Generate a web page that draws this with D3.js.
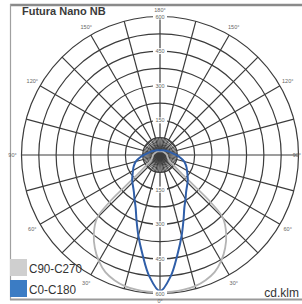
<!DOCTYPE html>
<html><head><meta charset="utf-8">
<script src="https://cdn.jsdelivr.net/npm/d3@7/dist/d3.min.js"></script>
<style>body{margin:0;background:#fff}svg{display:block}</style>
</head><body><svg id="c" width="302" height="304"></svg>
<script>
const title = "Futura Nano NB";
const unitLabel = "cd.klm";
const ringValues = [75,150,225,300,375,450,525,600];
const ringLabels = [150,300,450,600];
const angleLabels = [0,30,60,90,120,150,180];
const seriesNames = ["C90-C270","C0-C180"];
// angle (deg from nadir) and intensity (cd/klm), symmetric halves
const grayAngles = [0,5,10,15,20,25,30,35,40,45,47,48,50,55,60,70,80,90,120,150,180];
const grayValues = [595,594,592,588,577,560,530,492,446,386,300,200,110,60,45,36,32,30,22,18,16];
const blueAngles = [0,5,10,15,20,25,30,35,40,45,50,55,60,65,70,75,80,85,90,100,110,120,135,150,165,180];
const blueValues = [590,528,437,362,298,250,221,197,181,169,157,145,135,127,118,108,95,82,70,52,42,35,28,24,21,20];

const svg = d3.select("#c");
const cx = 160, cy = 155;
const r = d3.scaleLinear().domain([0,600]).range([0,138.5]);
const font = "Liberation Sans, Arial, sans-serif";

// frame
svg.append("line").attr("x1",10).attr("x2",302).attr("y1",5).attr("y2",5).attr("stroke","#8a8a8a").attr("stroke-width",2.5);
svg.append("line").attr("x1",10.5).attr("x2",10.5).attr("y1",4).attr("y2",300).attr("stroke","#a0a0a0").attr("stroke-width",1.2);
svg.append("line").attr("x1",10).attr("x2",302).attr("y1",299.5).attr("y2",299.5).attr("stroke","#9a9a9a").attr("stroke-width",2);

const g = svg.append("g").attr("transform",`translate(${cx},${cy})`);
const grid = g.append("g").attr("stroke","#3c3c3c").attr("fill","none");
grid.selectAll("circle").data(ringValues).join("circle").attr("r",d=>r(d)).attr("stroke-width",1.2);
const rad = d=>d*Math.PI/180;
// 15 deg spokes
grid.selectAll("line.s").data(d3.range(0,360,15)).join("line").attr("class","s")
  .attr("x1",0).attr("y1",0)
  .attr("x2",d=>r(600)*Math.sin(rad(d))).attr("y2",d=>r(600)*Math.cos(rad(d))).attr("stroke-width",1.2);
// dense inner spokes
grid.selectAll("line.d").data(d3.range(0,360,5).filter(d=>d%15)).join("line").attr("class","d")
  .attr("x1",0).attr("y1",0)
  .attr("x2",d=>r(75)*Math.sin(rad(d))).attr("y2",d=>r(75)*Math.cos(rad(d))).attr("stroke-width",0.9);

// curves
function pts(angles, values){
  const right = angles.map((a,i)=>[rad(180-a), r(values[i])]);
  const left = angles.slice(1,-1).reverse().map(a=>{
    const idx = angles.indexOf(a);
    return [rad(180+a), r(values[idx])];
  });
  return right.concat(left);
}
const line = d3.lineRadial().curve(d3.curveCatmullRomClosed);
g.append("path").attr("d",line(pts(grayAngles,grayValues))).attr("fill","none").attr("stroke","#b4b4b4").attr("stroke-width",1.8);
g.append("path").attr("d",line(pts(blueAngles,blueValues))).attr("fill","none").attr("stroke","#2f5ea8").attr("stroke-width",2);

// radial labels on vertical axis
const lab = g.append("g").attr("font-family",font).attr("font-size",5.5).attr("fill","#666").attr("text-anchor","middle");
[-1,1].forEach(s=>{
  ringLabels.forEach(v=>{
    lab.append("rect").attr("x",-7).attr("y",s*r(v)-3).attr("width",14).attr("height",6).attr("fill","#fff");
    lab.append("text").attr("x",0).attr("y",s*r(v)+2).text(v);
  });
});
// angle labels
const al = g.append("g").attr("font-family",font).attr("font-size",5.5).attr("fill","#666").attr("text-anchor","middle");
angleLabels.forEach(a=>{
  [-1,1].forEach(s=>{
    if((a===0||a===180)&&s<0) return;
    const rr = r(600)+ (a===0||a===180?7:9);
    let x = s*rr*Math.sin(rad(a));
    const t = al.append("text").attr("y",rr*Math.cos(rad(a))+2).text(a+"°");
    if(a===90 && s>0){ t.attr("x",141).attr("text-anchor","end"); }
    else t.attr("x",x);
  });
});

// title
svg.append("text").attr("x",22).attr("y",15).attr("font-family",font).attr("font-weight","bold").attr("font-size",11).attr("fill","#3a3a3a").text(title);
// legend
const legColors = ["#cfcfcf","#3b7cc4"];
seriesNames.forEach((n,i)=>{
  const y = 259 + i*21;
  svg.append("rect").attr("x",10).attr("y",y).attr("width",17).attr("height",17).attr("fill",legColors[i]);
  svg.append("text").attr("x",29).attr("y",y+14).attr("font-family",font).attr("font-size",13).attr("fill","#333")
    .attr("textLength",i?47:53).attr("lengthAdjust","spacingAndGlyphs").text(n);
});
svg.append("text").attr("x",299).attr("y",297).attr("text-anchor","end").attr("font-family",font).attr("font-size",12).attr("fill","#333").text(unitLabel);
</script></body></html>
